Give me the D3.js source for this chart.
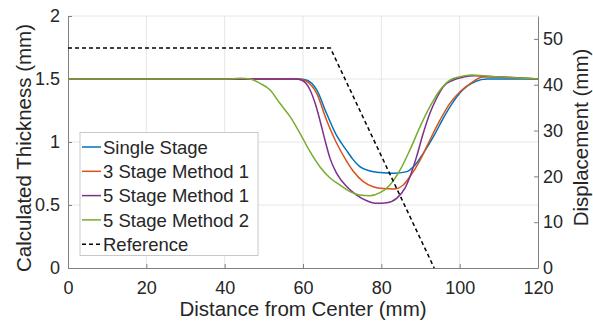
<html>
<head>
    <style>
        body { margin: 0; background: #fff; }
        text { font-family: "Liberation Sans", Arial, sans-serif; fill: #262626; }
        .axis path, .axis line { stroke: #808080; }
        .grid line { stroke: #e6e6e6; }
        .series { fill: none; stroke-width: 1.5px; }
    </style>
</head>
<body>
<div id="chart"></div>
<script src="https://d3js.org/d3.v7.min.js"></script>
<script>
    // thickness curves, values (mm vs mm)
    let singleX = [0, 40, 55, 59, 61, 63.5, 66, 68.6, 71.2, 72.8, 74.5, 77.1, 79.7, 83.1, 86.5, 88.2, 90.7, 93.3, 95.8, 98.4, 100.1, 102, 104, 107, 120];
    let singleY = [1.5, 1.5, 1.5, 1.5, 1.49, 1.413, 1.228, 1.05, 0.93, 0.86, 0.804, 0.77, 0.757, 0.751, 0.765, 0.804, 0.91, 1.042, 1.188, 1.32, 1.39, 1.445, 1.48, 1.5, 1.5];

    let stage3X = [0, 40, 55, 59, 61, 63.5, 66, 68.6, 71.2, 72.8, 75.4, 77.9, 80.5, 83.1, 85.6, 87.3, 89.9, 92.4, 95, 97.5, 100.1, 103, 106, 110, 120];
    let stage3Y = [1.5, 1.5, 1.5, 1.5, 1.48, 1.386, 1.175, 0.99, 0.845, 0.77, 0.685, 0.645, 0.63, 0.627, 0.659, 0.725, 0.857, 1.016, 1.175, 1.307, 1.399, 1.47, 1.515, 1.515, 1.5];

    let stage5aX = [0, 40, 55, 58, 59.7, 61.8, 63.1, 64.3, 65.6, 66.9, 68.6, 71.2, 73.7, 76.3, 78.8, 81.4, 83.9, 86, 87.3, 89, 90.7, 92.4, 94.1, 95.8, 98.4, 101, 104, 110, 120];
    let stage5aY = [1.5, 1.5, 1.5, 1.5, 1.49, 1.413, 1.307, 1.175, 1.016, 0.87, 0.751, 0.645, 0.579, 0.534, 0.513, 0.518, 0.553, 0.632, 0.725, 0.884, 1.069, 1.228, 1.347, 1.439, 1.492, 1.515, 1.525, 1.515, 1.5];

    let stage5bX = [0, 40, 44, 46.5, 49, 51.6, 54.1, 56.7, 59.2, 61.8, 64.3, 66.9, 69.4, 72, 74.5, 77.1, 79.7, 82.2, 84.8, 87.3, 89.9, 92.4, 95, 97.5, 100.1, 103, 108, 120];
    let stage5bY = [1.5, 1.5, 1.505, 1.5, 1.466, 1.413, 1.307, 1.201, 1.071, 0.923, 0.804, 0.714, 0.659, 0.606, 0.579, 0.574, 0.598, 0.659, 0.778, 0.937, 1.122, 1.28, 1.413, 1.492, 1.518, 1.532, 1.52, 1.5];

    // reference displacement (right axis)
    let refX = [0, 67, 93.5];
    let refY = [48, 48, 0];

    let seriesNames = ["Single Stage", "3 Stage Method 1", "5 Stage Method 1", "5 Stage Method 2", "Reference"];
    let seriesColors = ["#0072BD", "#D95319", "#7E2F8E", "#77AC30", "#000000"];

    let xTicks = [0, 20, 40, 60, 80, 100, 120];
    let yTicks = [0, 0.5, 1, 1.5, 2];
    let y2Ticks = [0, 10, 20, 30, 40, 50];

    let width = 593, height = 325,
        margin = { left: 68, right: 55, top: 16, bottom: 57 };

    let svg = d3.select("#chart").append("svg")
        .attr("width", width)
        .attr("height", height);

    let x = d3.scaleLinear().domain([0, 120]).range([margin.left, width - margin.right]),
        y = d3.scaleLinear().domain([0, 2]).range([height - margin.bottom, margin.top]),
        y2 = d3.scaleLinear().domain([0, 55]).range([height - margin.bottom, margin.top]);

    // grid
    let grid = svg.append("g").attr("class", "grid");
    grid.selectAll(".gx").data(xTicks.slice(1, -1)).enter().append("line")
        .attr("x1", d => x(d)).attr("x2", d => x(d))
        .attr("y1", y(0)).attr("y2", y(2));
    grid.selectAll(".gy").data(yTicks.slice(1)).enter().append("line")
        .attr("x1", x(0)).attr("x2", x(120))
        .attr("y1", d => y(d)).attr("y2", d => y(d));

    // axes
    svg.append("g").attr("class", "axis")
        .attr("transform", "translate(0," + y(0) + ")")
        .call(d3.axisBottom(x).tickValues(xTicks).tickSize(-4).tickPadding(13).tickSizeOuter(0))
        .selectAll("text").style("font-size", "18px");

    svg.append("g").attr("class", "axis")
        .attr("transform", "translate(" + x(0) + ",0)")
        .call(d3.axisLeft(y).tickValues(yTicks).tickFormat(d3.format("~g")).tickSize(-4).tickPadding(8).tickSizeOuter(0))
        .selectAll("text").style("font-size", "18px");

    svg.append("g").attr("class", "axis")
        .attr("transform", "translate(" + x(120) + ",0)")
        .call(d3.axisRight(y2).tickValues(y2Ticks).tickSize(-4).tickPadding(5).tickSizeOuter(0))
        .selectAll("text").style("font-size", "18px");

    svg.selectAll(".axis text").attr("fill", "#262626");

    d3.selectAll(".axis .domain").attr("stroke", "#808080");

    // axis titles
    svg.append("text")
        .attr("x", (x(0) + x(120)) / 2).attr("y", 316)
        .attr("text-anchor", "middle")
        .style("font-size", "20.5px")
        .text("Distance from Center (mm)");

    svg.append("text")
        .attr("transform", "translate(31,148) rotate(-90)")
        .attr("text-anchor", "middle")
        .style("font-size", "20.5px")
        .text("Calculated Thickness (mm)");

    svg.append("text")
        .attr("transform", "translate(588,137.5) rotate(-90)")
        .attr("text-anchor", "middle")
        .style("font-size", "20.5px")
        .text("Displacement (mm)");

    // curves
    let line = d3.line()
        .x(d => x(d[0]))
        .y(d => y(d[1]))
        .curve(d3.curveMonotoneX);

    let thick = [
        d3.zip(singleX, singleY),
        d3.zip(stage3X, stage3Y),
        d3.zip(stage5aX, stage5aY),
        d3.zip(stage5bX, stage5bY)
    ];

    svg.selectAll(".series").data(thick).enter().append("path")
        .attr("class", "series")
        .attr("stroke", (d, i) => seriesColors[i])
        .attr("d", line);

    let refLine = d3.line().x(d => x(d[0])).y(d => y2(d[1]));
    svg.append("path")
        .datum(d3.zip(refX, refY))
        .attr("fill", "none")
        .attr("stroke", "#000")
        .attr("stroke-width", 1.5)
        .attr("stroke-dasharray", "4,3")
        .attr("d", refLine);

    // legend
    let lg = svg.append("g").attr("transform", "translate(80,132.5)");
    lg.append("rect")
        .attr("width", 178).attr("height", 123)
        .attr("fill", "#fff").attr("stroke", "#c8c8c8");
    let item = lg.selectAll(".item").data(seriesNames).enter().append("g")
        .attr("transform", (d, i) => "translate(0," + (14.5 + i * 24.3) + ")");
    item.append("line")
        .attr("x1", 2).attr("x2", 21)
        .attr("stroke", (d, i) => seriesColors[i])
        .attr("stroke-width", 1.5)
        .attr("stroke-dasharray", (d, i) => i == 4 ? "4,3" : null);
    item.append("text")
        .attr("x", 23).attr("dy", "0.36em")
        .style("font-size", "18.5px")
        .text(d => d);
</script>
</body>
</html>
